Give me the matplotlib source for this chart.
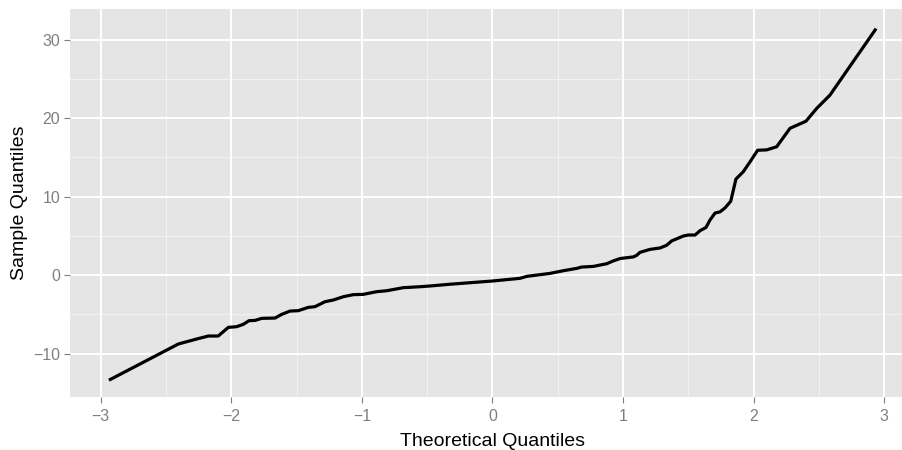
import matplotlib
matplotlib.use("Agg")
import matplotlib.pyplot as plt

# points (theoretical, sample)
theoretical = [-2.937, -2.406, -2.265, -2.176, -2.1, -2.023, -1.959,
               -1.908, -1.865, -1.818, -1.767, -1.665, -1.614, -1.55, -1.487,
               -1.41, -1.359, -1.283, -1.219, -1.142, -1.066, -0.989, -0.887,
               -0.81, -0.683, -0.555, -0.453, -0.325, 0.0, 0.21, 0.262, 0.44,
               0.542, 0.645, 0.683, 0.772, 0.823, 0.874, 0.925, 0.976, 1.078,
               1.104, 1.129, 1.206, 1.283, 1.334, 1.372, 1.461, 1.499, 1.551,
               1.589, 1.635, 1.665, 1.704, 1.742, 1.78, 1.824, 1.864, 1.92,
               1.972, 2.03, 2.1, 2.176, 2.278, 2.4, 2.482, 2.584, 2.937]
sample = [-13.4, -8.79, -8.15, -7.77, -7.77, -6.67, -6.58,
          -6.28, -5.82, -5.78, -5.52, -5.48, -5.01, -4.59, -4.54,
          -4.12, -4.03, -3.4, -3.18, -2.76, -2.5, -2.46, -2.12,
          -2.0, -1.61, -1.49, -1.36, -1.17, -0.76, -0.42, -0.17, 0.21,
          0.55, 0.85, 1.02, 1.1, 1.27, 1.44, 1.8, 2.1, 2.31,
          2.51, 2.89, 3.27, 3.45, 3.8, 4.35, 4.97, 5.1, 5.1,
          5.65, 6.07, 7.0, 7.9, 8.05, 8.55, 9.4, 12.23, 13.16,
          14.43, 15.9, 15.95, 16.35, 18.7, 19.6, 21.23, 22.93, 31.4]

x_ticks = [-3, -2, -1, 0, 1, 2, 3]
y_ticks = [-10, 0, 10, 20, 30]

plt.rcParams['font.family'] = ['Liberation Sans', 'DejaVu Sans']

fig = plt.figure(figsize=(9.03, 4.5), dpi=100)
ax = fig.add_axes([70 / 903, 53 / 450, 845 / 903, 388 / 450])
ax.set_facecolor('#E5E5E5')

ax.set_xlim(-3.235, 3.235)
ax.set_ylim(-15.54, 33.9)

# grid like ggplot2 theme_grey
for v in [-2.5, -1.5, -0.5, 0.5, 1.5, 2.5]:
    ax.axvline(v, color='#F2F2F2', lw=0.8, zorder=0)
for v in [-5, 5, 15, 25]:
    ax.axhline(v, color='#F2F2F2', lw=0.8, zorder=0)
for v in x_ticks:
    ax.axvline(v, color='white', lw=1.4, zorder=0.5)
for v in y_ticks:
    ax.axhline(v, color='white', lw=1.4, zorder=0.5)

ax.plot(theoretical, sample, color='black', lw=2.3, solid_joinstyle='round',
        solid_capstyle='butt', zorder=2)

for s in ax.spines.values():
    s.set_visible(False)

ax.set_xticks(x_ticks)
ax.set_xticklabels(['\u22123', '\u22122', '\u22121', '0', '1', '2', '3'])
ax.set_yticks(y_ticks)
ax.set_yticklabels(['\u221210', '0', '10', '20', '30'])
ax.tick_params(colors='#7F7F7F', labelcolor='#7F7F7F', labelsize=11.4,
               length=4, width=0.8)
ax.tick_params(axis='x', pad=4.5)
ax.tick_params(axis='y', pad=3)

ax.set_xlabel('Theoretical Quantiles', fontsize=14, color='black', labelpad=6.5)
ax.set_ylabel('Sample Quantiles', fontsize=14, color='black', labelpad=3.5)

fig.savefig('out.png', dpi=100)
